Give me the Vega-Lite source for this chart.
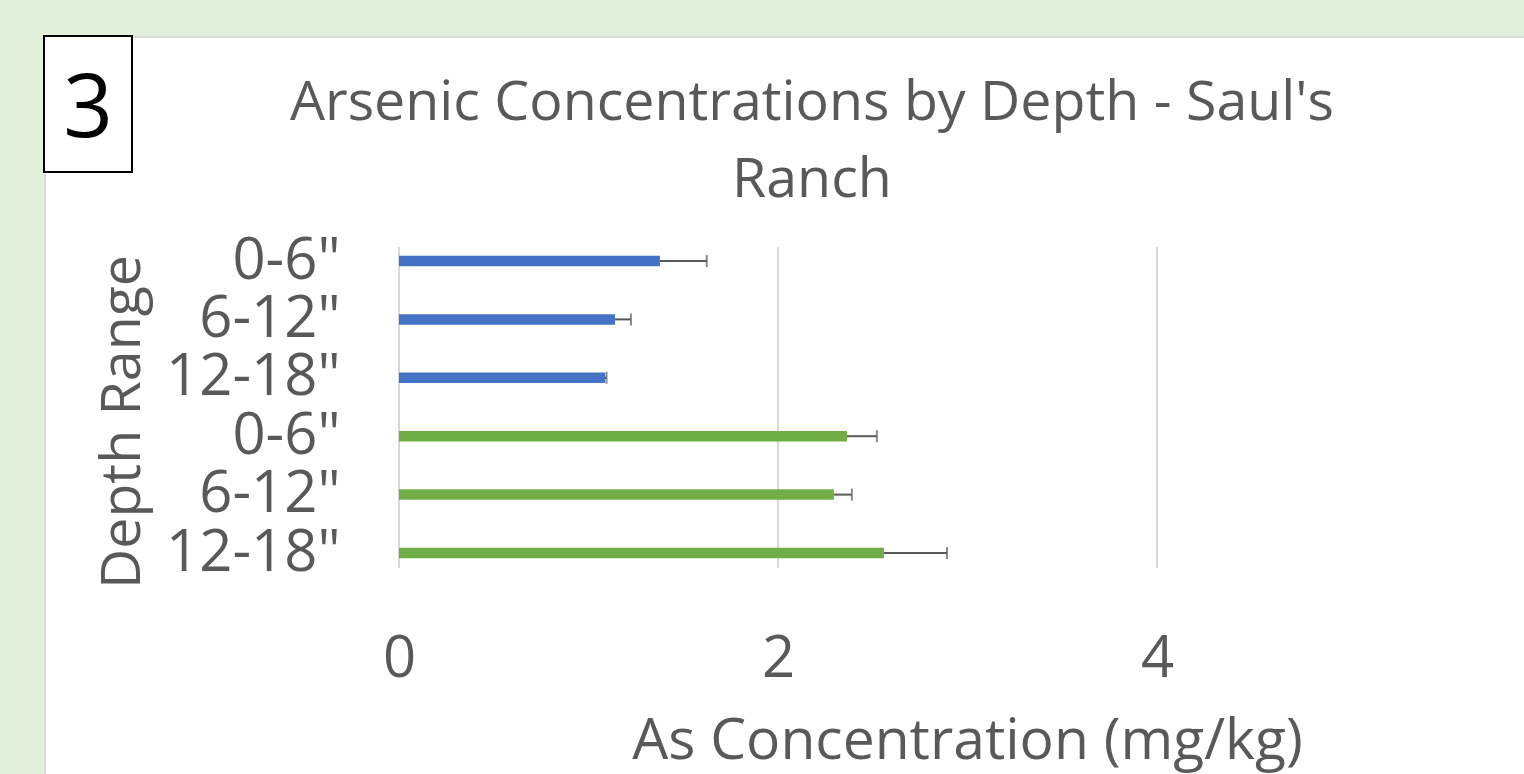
{
  "$schema": "https://vega.github.io/schema/vega-lite/v6.json",
  "width": 1125,
  "height": 321,
  "autosize": {"type": "none"},
  "padding": {"left": 399, "top": 247, "right": 0, "bottom": 206},
  "background": "#e2efda",
  "config": {"view": {"stroke": null}, "font": "Open Sans"},
  "datasets": {
    "panel": [{"x1": -1.868, "x2": 7, "y1": -210, "y2": 560}],
    "badge": [{"x1": -1.8734, "x2": -1.409, "y1": -211, "y2": -75, "label": "3", "tx": -1.641, "ty": -110}],
    "titles": [
      {"line": "Arsenic Concentrations by Depth - Saul's", "tx": 2.179, "ty": -127},
      {"line": "Ranch", "tx": 2.179, "ty": -50}
    ],
    "grid": [{"g": 0}, {"g": 2}, {"g": 4}],
    "bars": [
      {"idx": 0, "depth": "0-6\"", "site": "A", "value": 1.377, "upper": 1.624},
      {"idx": 1, "depth": "6-12\"", "site": "A", "value": 1.14, "upper": 1.224},
      {"idx": 2, "depth": "12-18\"", "site": "A", "value": 1.087, "upper": 1.095},
      {"idx": 3, "depth": "0-6\"", "site": "B", "value": 2.364, "upper": 2.522},
      {"idx": 4, "depth": "6-12\"", "site": "B", "value": 2.295, "upper": 2.39},
      {"idx": 5, "depth": "12-18\"", "site": "B", "value": 2.559, "upper": 2.892}
    ]
  },
  "layer": [
    {
      "layer": [
        {
          "data": {"name": "panel"},
          "mark": {"type": "rect", "fill": "#ffffff", "stroke": "#d9d9d9", "strokeWidth": 2},
          "encoding": {
            "x": {"field": "x1", "type": "quantitative", "scale": {"domain": [0, 5.937], "nice": false, "zero": false}, "axis": null},
            "x2": {"field": "x2"},
            "y": {"field": "y1", "type": "quantitative", "scale": {"domain": [0, 321], "reverse": true, "nice": false, "zero": false}, "axis": null},
            "y2": {"field": "y2"}
          }
        },
        {
          "data": {"name": "badge"},
          "mark": {"type": "rect", "fill": "#ffffff", "stroke": "#000000", "strokeWidth": 2},
          "encoding": {
            "x": {"field": "x1", "type": "quantitative"},
            "x2": {"field": "x2"},
            "y": {"field": "y1", "type": "quantitative"},
            "y2": {"field": "y2"}
          }
        },
        {
          "data": {"name": "badge"},
          "mark": {"type": "text", "fontSize": 87, "color": "#000000", "align": "center", "baseline": "alphabetic"},
          "encoding": {
            "x": {"field": "tx", "type": "quantitative"},
            "y": {"field": "ty", "type": "quantitative"},
            "text": {"field": "label"}
          }
        },
        {
          "data": {"name": "titles"},
          "mark": {"type": "text", "fontSize": 55.5, "color": "#595959", "align": "center", "baseline": "alphabetic"},
          "encoding": {
            "x": {"field": "tx", "type": "quantitative"},
            "y": {"field": "ty", "type": "quantitative"},
            "text": {"field": "line"}
          }
        }
      ]
    },
    {
      "layer": [
        {
          "data": {"name": "grid"},
          "mark": {"type": "rule", "color": "#d9d9d9", "strokeWidth": 2},
          "encoding": {
            "x": {"field": "g", "type": "quantitative", "scale": {"domain": [0, 5.937], "nice": false, "zero": false},
              "axis": {
                "orient": "bottom", "values": [0, 2, 4], "format": "d", "zindex": 1, "grid": false, "domain": false, "ticks": false, "tickSize": 0,
                "labelFontSize": 58, "labelColor": "#595959", "labelBaseline": "alphabetic", "labelPadding": 108,
                "labelFlush": false,
                "title": "As Concentration (mg/kg)", "titleFontSize": 57, "titleFontWeight": "normal", "titleColor": "#595959",
                "titleX": 568, "titleY": 190, "titleBaseline": "alphabetic", "titleAlign": "center"
              }
            }
          }
        },
        {
          "data": {"name": "bars"},
          "mark": {"type": "bar", "size": 10.5},
          "encoding": {
            "y": {"field": "idx", "type": "ordinal", "scale": {"type": "point", "range": [14, 306], "padding": 0},
              "axis": {
                "orient": "left", "zindex": 1, "grid": false, "domain": false, "ticks": false, "tickSize": 0,
                "labelExpr": "['0-6\"','6-12\"','12-18\"','0-6\"','6-12\"','12-18\"'][datum.value]",
                "labelFontSize": 58, "labelColor": "#595959", "labelAlign": "right", "labelBaseline": "middle", "labelPadding": 59,
                "title": "Depth Range", "titleFontSize": 55.5, "titleFontWeight": "normal", "titleColor": "#595959",
                "titleAngle": -90, "titleX": -260, "titleY": 174.5, "titleBaseline": "alphabetic", "titleAlign": "center"
              }
            },
            "x": {"field": "value", "type": "quantitative"},
            "color": {"field": "site", "type": "nominal", "scale": {"domain": ["A", "B"], "range": ["#4472c4", "#70ad47"]}, "legend": null}
          }
        },
        {
          "data": {"name": "bars"},
          "mark": {"type": "rule", "color": "#595959", "strokeWidth": 2},
          "encoding": {
            "y": {"field": "idx", "type": "ordinal"},
            "x": {"field": "value", "type": "quantitative"},
            "x2": {"field": "upper"}
          }
        },
        {
          "data": {"name": "bars"},
          "mark": {"type": "tick", "color": "#595959", "thickness": 2, "size": 12, "orient": "vertical"},
          "encoding": {
            "y": {"field": "idx", "type": "ordinal"},
            "x": {"field": "upper", "type": "quantitative"}
          }
        }
      ]
    }
  ],
  "resolve": {"scale": {"x": "independent", "y": "independent"}, "axis": {"x": "independent", "y": "independent"}}
}
